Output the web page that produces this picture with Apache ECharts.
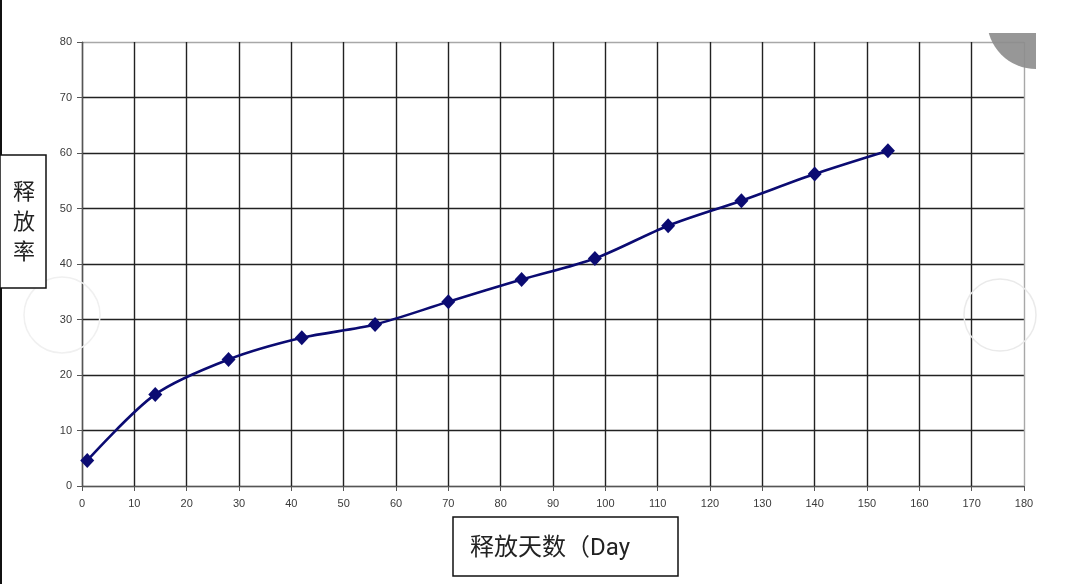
<!DOCTYPE html>
<html>
<head>
<meta charset="utf-8">
<script src="https://cdn.jsdelivr.net/npm/echarts@6/dist/echarts.min.js"></script>
<style>
html,body{margin:0;padding:0;background:#fff;}
#chart{width:1080px;height:584px;}
</style>
</head>
<body>
<div id="chart"></div>
<script>
// Data
const days = [1, 14, 28, 42, 56, 70, 84, 98, 112, 126, 140, 154];
const releaseRate = [4.6, 16.5, 22.8, 26.7, 29.1, 33.2, 37.2, 41.0, 46.9, 51.4, 56.2, 60.4];
const yAxisTitle = '释放率';
const xAxisTitle = '释放天数（Day';

const chart = echarts.init(document.getElementById('chart'));
const yColors = ['#222','#222','#222','#222','#222','#222','#222','#222','#a8a8a8'];
const xColors = [];
for (let i = 0; i < 19; i++) xColors.push(i === 18 ? '#a8a8a8' : '#222');

chart.setOption({
  animation: false,
  backgroundColor: '#ffffff',
  grid: { left: 82, right: 56, top: 42, bottom: 98 },
  xAxis: {
    type: 'value', min: 0, max: 180, interval: 10,
    axisLine: { show: true, onZero: false, lineStyle: { color: '#555', width: 1.2 } },
    axisTick: { show: true, length: 5, lineStyle: { color: '#555' } },
    axisLabel: { color: '#3a3a3a', fontSize: 11, fontFamily: 'Liberation Sans, Arial', margin: 12 },
    splitLine: { show: true, lineStyle: { color: xColors, width: 1.4 } }
  },
  yAxis: {
    type: 'value', min: 0, max: 80, interval: 10,
    axisLine: { show: true, lineStyle: { color: '#555', width: 1.2 } },
    axisTick: { show: true, length: 5, lineStyle: { color: '#555' } },
    axisLabel: { color: '#3a3a3a', fontSize: 11, fontFamily: 'Liberation Sans, Arial', margin: 10 },
    splitLine: { show: true, lineStyle: { color: yColors, width: 1.4 } }
  },
  series: [{
    type: 'line',
    data: days.map((d, i) => [d, releaseRate[i]]),
    smooth: 0.3,
    symbol: 'diamond',
    symbolSize: [14, 15],
    itemStyle: { color: '#0b0b72' },
    lineStyle: { color: '#0b0b72', width: 2.6 },
    z: 5
  }],
  graphic: [
    { type: 'rect', shape: { x: 0, y: 0, width: 2, height: 584 }, style: { fill: '#111' }, z: 10 },
    { type: 'circle', shape: { cx: 62, cy: 315, r: 38 }, style: { fill: 'none', stroke: '#f0f0f0', lineWidth: 1.5 }, z: 1 },
    { type: 'circle', shape: { cx: 1000, cy: 315, r: 36 }, style: { fill: 'none', stroke: '#eaeaea', lineWidth: 1.5 }, z: 1 },
    { type: 'circle', shape: { cx: 1036, cy: 20, r: 49 }, style: { fill: '#8c8c8c', opacity: 0.9 }, z: 20 },
    { type: 'rect', shape: { x: 960, y: 0, width: 120, height: 33 }, style: { fill: '#fff' }, z: 21 },
    { type: 'rect', shape: { x: 1036, y: 0, width: 44, height: 120 }, style: { fill: '#fff' }, z: 21 },
    { type: 'rect', shape: { x: 0, y: 155, width: 46, height: 133 }, style: { fill: '#fff', stroke: '#111', lineWidth: 1.5 }, z: 30 },
    { type: 'text', left: 13, top: 176, style: { text: yAxisTitle.split('').join('\n'), fill: '#222', font: '22px "Noto Sans CJK SC"', lineHeight: 30 }, z: 31 },
    { type: 'rect', shape: { x: 453, y: 517, width: 225, height: 59 }, style: { fill: '#fff', stroke: '#111', lineWidth: 1.5 }, z: 30 },
    { type: 'text', left: 470, top: 537, style: { text: xAxisTitle, fill: '#222', font: '24px Roboto, "Noto Sans CJK SC"' }, z: 31 }
  ]
});
</script>
</body>
</html>
